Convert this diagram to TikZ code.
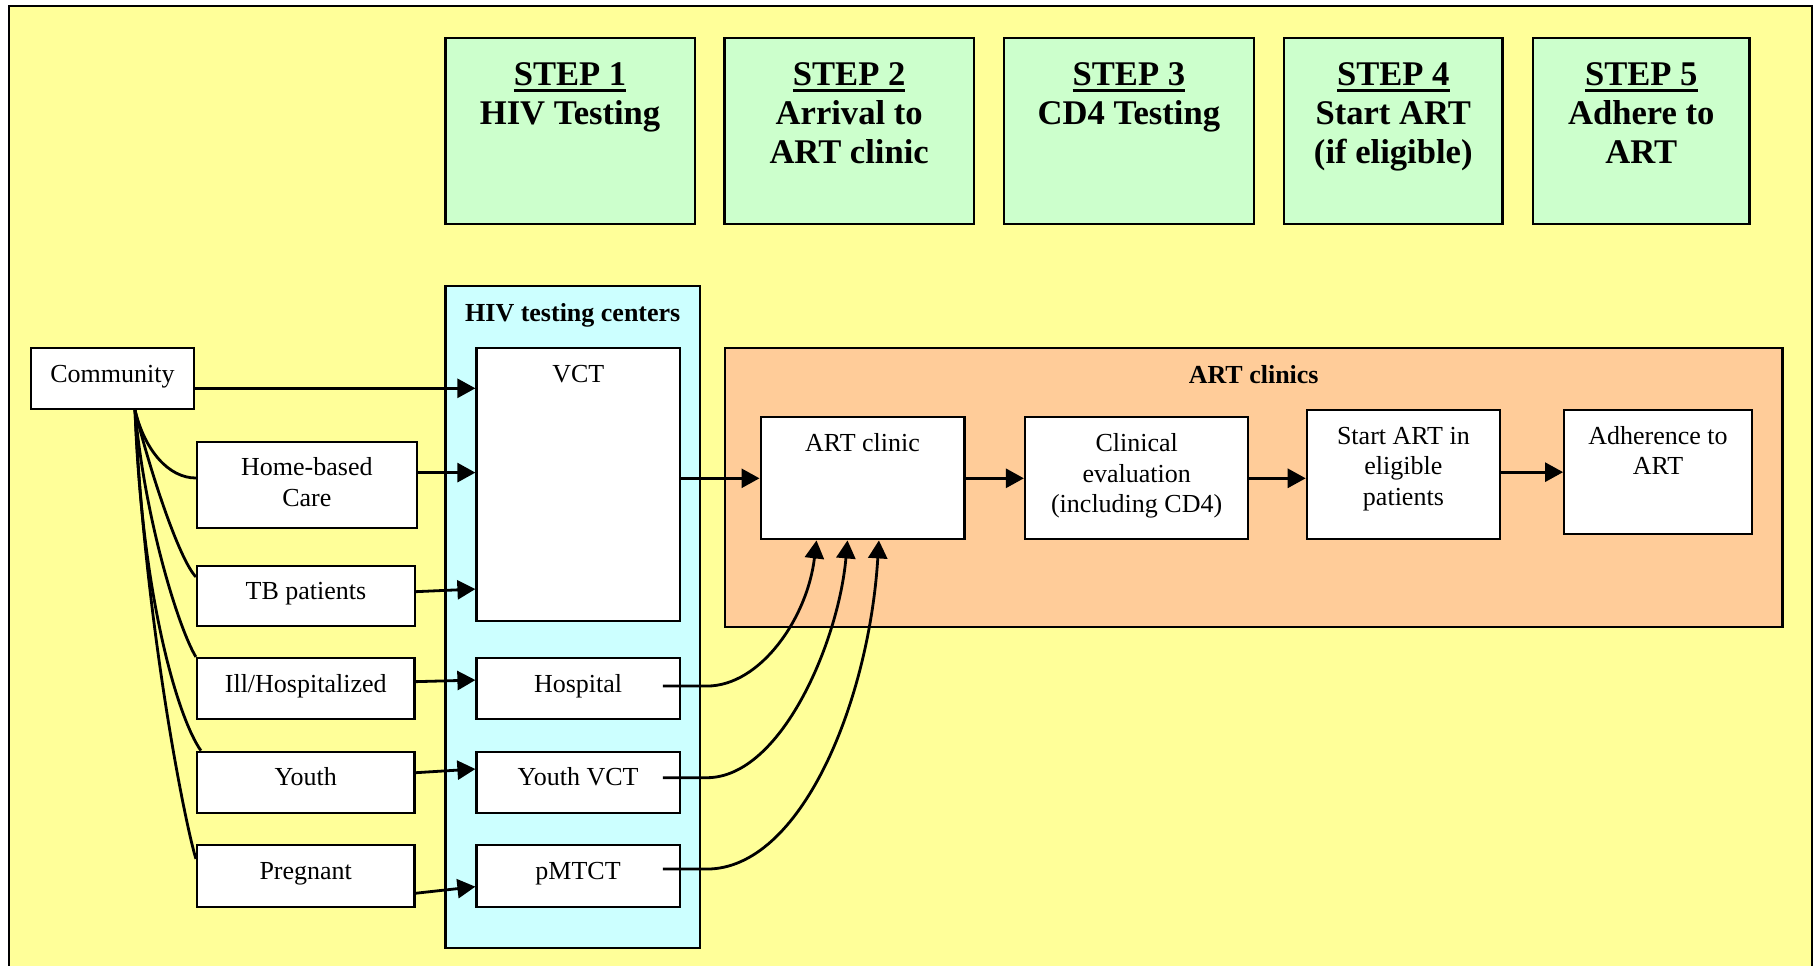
\documentclass[tikz,border=0pt]{standalone}
\usepackage{fontspec}
\setmainfont{Liberation Serif}
\usetikzlibrary{arrows.meta,fit,calc}

\definecolor{bgyellow}{HTML}{FFFF99}
\definecolor{stepgreen}{HTML}{CCFFCC}
\definecolor{centercyan}{HTML}{CCFFFF}
\definecolor{clinicorange}{HTML}{FFCC99}

% thick underline for the step headings
\newcommand\ulstep[1]{\setbox0=\hbox{#1}\rlap{\rule[-3.1pt]{\wd0}{1.5pt}}\box0}

\begin{document}
\begin{tikzpicture}[x=0.5pt,y=-0.5pt,
  box/.style={draw=black,line width=1.1pt,inner sep=0pt,fill=white},
  stepbox/.style={box,fill=stepgreen},
  groupbox/.style={box},
  body/.style={font=\fontsize{13}{15.3}\selectfont,align=center,inner sep=0pt,anchor=north},
  title/.style={body,font=\fontsize{13}{15.3}\selectfont\bfseries},
  steptxt/.style={font=\fontsize{17.3}{19.5}\selectfont\bfseries,align=center,inner sep=0pt,anchor=north},
  arr/.style={line width=1.4pt,-{Triangle[length=9pt,width=9.5pt]}},
  link/.style={line width=1.4pt},
]
\clip (0,0) rectangle (1816,965);
\fill[white] (0,0) rectangle (1816,965);
\draw[line width=1.3pt,fill=bgyellow] (9,6) rectangle (1812,990);

% the five steps
\node[stepbox,fit={(445.5,37.7) (694.6,224.3)}] (s1) {};
\node[stepbox,fit={(724.5,37.7) (973.8,224.3)}] (s2) {};
\node[stepbox,fit={(1004.2,37.7) (1253.6,224.3)}] (s3) {};
\node[stepbox,fit={(1284,37.7) (1502.5,224.3)}] (s4) {};
\node[stepbox,fit={(1533,37.7) (1749.5,224.3)}] (s5) {};
\node[steptxt] (s1t) at ([yshift=-10.6pt]s1.north) {\strut\ulstep{STEP 1}\\HIV Testing};
\node[steptxt] (s2t) at ([yshift=-10.6pt]s2.north) {\strut\ulstep{STEP 2}\\Arrival to\\ART clinic};
\node[steptxt] (s3t) at ([yshift=-10.6pt]s3.north) {\strut\ulstep{STEP 3}\\CD4 Testing};
\node[steptxt] (s4t) at ([yshift=-10.6pt]s4.north) {\strut\ulstep{STEP 4}\\Start ART\\(if eligible)};
\node[steptxt] (s5t) at ([yshift=-10.6pt]s5.north) {\strut\ulstep{STEP 5}\\Adhere to\\ART};

% HIV testing centers
\node[groupbox,fill=centercyan,fit={(445.5,285.7) (700,948.3)}] (centers) {};
\node[title] (centerst) at ([yshift=-7.3pt]centers.north) {\strut HIV testing centers};
\node[box,fit={(476.5,348) (680,620.7)}] (vct) {};
\node[box,fit={(476.5,658) (679.7,719.3)}] (hosp) {};
\node[box,fit={(476.5,751.7) (679.7,812.7)}] (yvct) {};
\node[box,fit={(476.5,845) (679.7,906.7)}] (pmtct) {};
\node[body] (vctt) at ([yshift=-6.7pt]vct.north) {\strut VCT};
\node[body] (hospt) at ([yshift=-6.7pt]hosp.north) {\strut Hospital};
\node[body] (yvctt) at ([yshift=-6.7pt]yvct.north) {\strut Youth VCT};
\node[body] (pmtctt) at ([yshift=-6.7pt]pmtct.north) {\strut pMTCT};

% ART clinics
\node[groupbox,fill=clinicorange,fit={(725,348.3) (1782.4,626.7)}] (clinics) {};
\node[title] (clinicst) at ([yshift=-7.3pt]clinics.north) {\strut ART clinics};
\node[box,fit={(760.6,417.3) (964.5,539.3)}] (artc) {};
\node[box,fit={(1025,417.3) (1248.3,539.3)}] (clin) {};
\node[box,fit={(1306.8,410) (1500,539.3)}] (start) {};
\node[box,fit={(1564.2,410) (1751.8,534.3)}] (adh) {};
\node[body] (artct) at ([yshift=-6.7pt]artc.north) {\strut ART clinic};
\node[body] (clint) at ([yshift=-6.7pt]clin.north) {\strut Clinical\\evaluation\\(including CD4)};
\node[body] (startt) at ([yshift=-6.7pt]start.north) {\strut Start ART in\\eligible\\patients};
\node[body] (adht) at ([yshift=-6.7pt]adh.north) {\strut Adherence to\\ART};

% population groups
\node[box,fit={(31,348) (194,409)}] (comm) {};
\node[box,fit={(197,441.7) (416.7,528.3)}] (home) {};
\node[box,fit={(197,565.7) (415,626)}] (tb) {};
\node[box,fit={(197,658) (414.5,719.3)}] (ill) {};
\node[box,fit={(197,751.7) (414.5,812.7)}] (youth) {};
\node[box,fit={(197,845) (414.5,906.7)}] (preg) {};
\node[body] (commt) at ([yshift=-6.7pt]comm.north) {\strut Community};
\node[body] (homet) at ([yshift=-6.7pt]home.north) {\strut Home-based\\Care};
\node[body] (tbt) at ([yshift=-6.7pt]tb.north) {\strut TB patients};
\node[body] (illt) at ([yshift=-6.7pt]ill.north) {\strut Ill/Hospitalized};
\node[body] (youtht) at ([yshift=-6.7pt]youth.north) {\strut Youth};
\node[body] (pregt) at ([yshift=-6.7pt]preg.north) {\strut Pregnant};

% community outreach links
\draw[link] ([xshift=11.25pt]comm.south) .. controls +(10,41) and +(-27,0) .. ([yshift=3.5pt]home.west);
\draw[link] ([xshift=11.25pt]comm.south) .. controls +(15,61) and +(-17,-18) .. ([yshift=-6.15pt]tb.north west);
\draw[link] ([xshift=11.25pt]comm.south) .. controls +(10,111) and +(-17,-28) .. (ill.north west);
\draw[link] ([xshift=11.25pt]comm.south) .. controls +(7,191) and +(-22,-31) .. ([xshift=2.5pt]youth.north west);
\draw[link] ([xshift=11.25pt]comm.south) .. controls +(10,211) and +(-12,-40) .. ([yshift=-7.5pt]preg.north west);

% referrals to testing
\draw[arr] ([yshift=-4.9pt]comm.east) -- ([yshift=-4.9pt]comm.east -| vct.west);
\draw[arr] ([yshift=6.2pt]home.east) -- ([yshift=6.2pt]home.east -| vct.west);
\draw[arr] ([yshift=2.1pt]tb.east) -- ([yshift=3.4pt]tb.east -| vct.west);
\draw[arr] ([yshift=3.5pt]ill.east) -- ([yshift=4.3pt]hosp.west);
\draw[arr] ([yshift=4.75pt]youth.east) -- ([yshift=6.6pt]yvct.west);
\draw[arr] ([yshift=-8.7pt]preg.east) -- ([yshift=-5.4pt]pmtct.west);

% into and through the ART clinic
\draw[arr] (vct.east |- artc.west) -- (artc.west);
\draw[arr] (artc.east) -- (clin.west);
\draw[arr] (clin.east) -- (clin.east -| start.west);
\draw[arr] (start.east |- adh.west) -- (adh.west);

% other testing sites feeding the ART clinic
\draw[arr] ([xshift=-9pt,yshift=1.3pt]hosp.east) -- ++(44,0) .. controls +(54,0) and +(-9,77) .. ([xshift=28.5pt]artc.south west);
\draw[arr] ([xshift=-9pt,yshift=2.25pt]yvct.east) -- ++(44,0) .. controls +(74,0) and +(-9,102) .. ([xshift=44pt]artc.south west);
\draw[arr] ([xshift=-9pt,yshift=3.4pt]pmtct.east) -- ++(44,0) .. controls +(94,0) and +(-10,162) .. ([xshift=59.7pt]artc.south west);
\end{tikzpicture}
\end{document}
